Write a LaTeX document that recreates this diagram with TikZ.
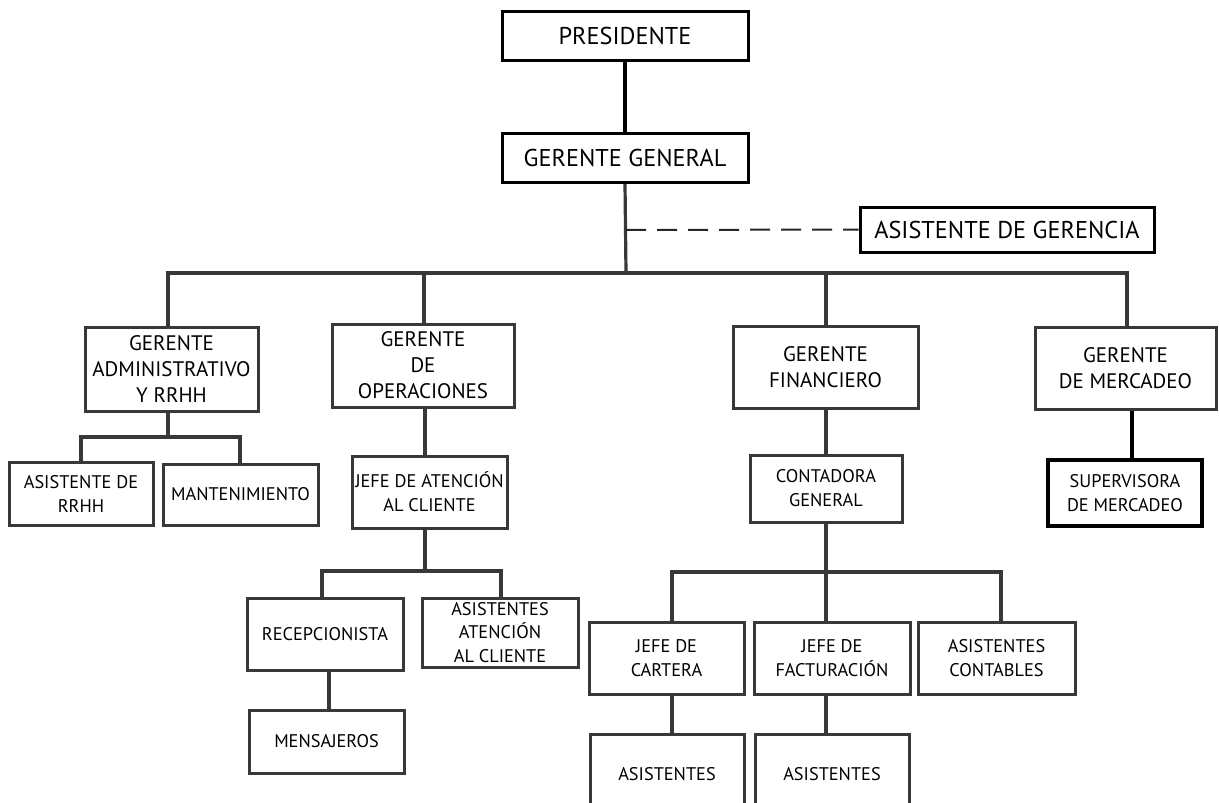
\documentclass[tikz,border=0pt]{standalone}
\usepackage{fontspec}
\setmainfont{PT Sans}
\usetikzlibrary{backgrounds}
\begin{document}
\begin{tikzpicture}[x=1pt,y=-1pt,
  topbox/.style={draw=black, line width=3pt, fill=white, inner sep=0pt, align=center, font=\fontsize{24.3}{28}\selectfont},
  gbox/.style={draw=black!78, line width=3pt, fill=white, inner sep=0pt, align=center, font=\fontsize{21}{26}\selectfont},
  sbox/.style={draw=black!78, line width=3pt, fill=white, inner sep=0pt, align=center, font=\fontsize{18.3}{24}\selectfont},
  kbox/.style={draw=black, line width=3.4pt, fill=white, inner sep=0pt, align=center, font=\fontsize{18.3}{24}\selectfont},
  conn/.style={draw=black!78, line width=3.2pt},
  kconn/.style={draw=black, line width=3.2pt},
  dconn/.style={draw=black!85, line width=2pt, dash pattern=on 20pt off 11pt}
]
\useasboundingbox (0,0) rectangle (1219,803);

% top
\node[topbox, minimum width=246pt, minimum height=49pt] (pres) at (625,35.5) {PRESIDENTE};
\node[topbox, minimum width=246pt, minimum height=49pt] (gg) at (625,157.5) {GERENTE GENERAL};
\node[topbox, minimum width=294pt, minimum height=45pt] (asg) at (1007,229.5) {ASISTENTE DE GERENCIA};

% level 2
\node[gbox, minimum width=173pt, minimum height=84pt] (adm) at (171.5,369) {GERENTE\\ADMINISTRATIVO\\Y RRHH};
\node[gbox, minimum width=182pt, minimum height=83pt] (ops) at (423,365.5) {GERENTE\\DE\\OPERACIONES};
\node[gbox, minimum width=185pt, minimum height=82pt] (fin) at (825.5,367) {GERENTE\\FINANCIERO};
\node[gbox, minimum width=181pt, minimum height=82pt] (mer) at (1125.5,368) {GERENTE\\DE MERCADEO};

% admin children
\node[sbox, minimum width=144pt, minimum height=63pt] (rrhh) at (81,493.5) {ASISTENTE DE\\RRHH};
\node[sbox, minimum width=155pt, minimum height=61pt] (mant) at (240.5,494.5) {MANTENIMIENTO};

% operations
\node[sbox, minimum width=155pt, minimum height=72pt] (jac) at (429.5,492) {JEFE DE ATENCIÓN\\AL CLIENTE};
\node[sbox, minimum width=156pt, minimum height=72pt] (rec) at (325,634) {RECEPCIONISTA};
\node[sbox, minimum width=156pt, minimum height=69pt, font=\fontsize{18.3}{23.5}\selectfont] (aac) at (500,632.5) {ASISTENTES\\ATENCIÓN\\AL CLIENTE};
\node[sbox, minimum width=155pt, minimum height=63pt] (men) at (326.5,741.5) {MENSAJEROS};

% finance
\node[sbox, minimum width=152pt, minimum height=67pt] (cont) at (826,488.5) {CONTADORA\\GENERAL};
\node[sbox, minimum width=155pt, minimum height=72pt] (jca) at (666.5,658) {JEFE DE\\CARTERA};
\node[sbox, minimum width=156pt, minimum height=72pt] (jfa) at (832,658) {JEFE DE\\FACTURACIÓN};
\node[sbox, minimum width=157pt, minimum height=72pt] (asc) at (996.5,658) {ASISTENTES\\CONTABLES};
\node[sbox, minimum width=154pt, minimum height=80pt] (as1) at (667,774) {ASISTENTES};
\node[sbox, minimum width=154pt, minimum height=80pt] (as2) at (832,774) {ASISTENTES};

% marketing
\node[kbox, minimum width=154pt, minimum height=66pt] (sup) at (1125,493) {SUPERVISORA\\DE MERCADEO};

% coordinates
\coordinate (bus) at (626,273);
\coordinate (dstart) at (626,230);
\coordinate (abus) at (168,437);
\coordinate (obus) at (425,571);
\coordinate (fbus) at (826,572);
% drop columns
\coordinate (xadm) at (168,0);
\coordinate (xops) at (424,0);
\coordinate (xfin) at (826,0);
\coordinate (xmer) at (1127,0);
\coordinate (xrrhh) at (81,0);
\coordinate (xmant) at (240,0);
\coordinate (xrec) at (322,0);
\coordinate (xrec2) at (329,0);
\coordinate (xaac) at (501,0);
\coordinate (xjca) at (672,0);
\coordinate (xjfa) at (826,0);
\coordinate (xasc) at (1001,0);
\coordinate (xsup) at (1132,0);

\begin{scope}[on background layer]
\fill[white] (0,0) rectangle (1219,803);
% connectors
\draw[kconn] (pres.south) -- (gg.north);
\draw[conn] (gg.south) -- (bus);
\draw[dconn] (dstart) -- (asg.west);
\draw[conn] (adm.north -| xadm) |- (bus) -| (mer.north -| xmer);
\draw[conn] (ops.north -| xops) |- (bus);
\draw[conn] (fin.north -| xfin) |- (bus);

\draw[conn] (adm.south -| xadm) -- (abus);
\draw[conn] (rrhh.north -| xrrhh) |- (abus) -| (mant.north -| xmant);

\draw[conn] (ops.south -| obus) -- (jac.north -| obus);
\draw[conn] (jac.south -| obus) -- (obus);
\draw[conn] (rec.north -| xrec) |- (obus) -| (aac.north -| xaac);
\draw[conn] (rec.south -| xrec2) -- (men.north -| xrec2);

\draw[conn] (fin.south -| xfin) -- (cont.north -| xfin);
\draw[conn] (cont.south -| fbus) -- (fbus);
\draw[conn] (jca.north -| xjca) |- (fbus) -| (asc.north -| xasc);
\draw[conn] (jfa.north -| xjfa) |- (fbus);
\draw[conn] (jca.south -| xjca) -- (as1.north -| xjca);
\draw[conn] (jfa.south -| xjfa) -- (as2.north -| xjfa);

\draw[kconn] (mer.south -| xsup) -- (sup.north -| xsup);
\end{scope}
\end{tikzpicture}
\end{document}
